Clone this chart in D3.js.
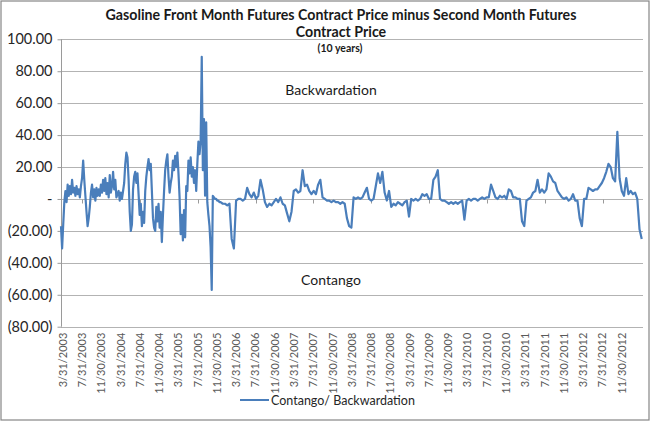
<!DOCTYPE html>
<html>
<head>
<meta charset="utf-8">
<script src="https://cdn.jsdelivr.net/npm/d3@7"></script>
<style>
body { margin:0; background:#fff; }
text { font-family: Lato, "Liberation Sans", sans-serif; }
</style>
</head>
<body>
<div id="main_div"></div>
<script>
var titleLines = ["Gasoline Front Month Futures Contract Price minus Second Month Futures", "Contract Price"];
var subTitle = "(10 years)";
var seriesName = "Contango/ Backwardation";
var regionLabels = ["Backwardation", "Contango"];

// front minus second month spread
// weekly through the volatile 2003-2005 stretch
var earlyStart = "3/20/2003", earlyStep = 7;
var earlySpread = [
  -17, -31, -16, -2, 5, -2, 9, 2, 8, 3,
  12, 4, 7, 2, 8, 3, 6, 1, 8, 13,
  24, 12, 2, -8, -17, -12, -5, 4, 9, 1,
  6, -1, 7, 2, 6, 2, 9, 4, 12, 5,
  13, 3, 10, 1, 15, 4, 8, 17, 6, 12,
  1, 3, 5, -1, 4, 0, 5, 10, 22, 29,
  26, 12, -8, -20, -16, 6, 14, 17, 10, 16,
  3, -10, -3, -17, -8, -15, 5, 14, 20, 25,
  18, 22, 5, -12, -18, -20, -5, -14, -3, -18,
  -8, -27, -10, 5, 18, 24, 28, 14, 4, 10,
  14, 24, 18, 27, 20, 29, 16, 1, -22, -10,
  -26, -7, -24, 8, 5, 24, 16, 26, 14, 20,
  10, 18, 5, 22, 36, 28, 36, 89, 18, 50,
  2, 48, -2, -10, -17, -30, -57, 2, 1, 0,
  0, -1, -1, -2
];
// biweekly afterwards
var lateStart = "12/22/2005", lateStep = 14;
var lateSpread = [
  -2, -3, -3, -4, -3, -25, -31, -1,
  0, 0, -1, 0, 7, 3, 1, 4, 0, 2,
  12, 6, -2, -5, -3, -4, -2, 0, -2, 1,
  -3, -4, -9, -14, -8, 5, 6, 4, 5, 18,
  8, 9, 5, 3, 5, 3, 9, 12, 1, 0,
  -1, -1, -2, -1, -2, -2, -3, -2, -3, -12,
  -17, -18, 1, 0, 1, 0, 1, 4, 7, 0,
  -1, 0, 8, 16, 10, 17, 4, -1, 5, -5,
  -3, -4, -2, -3, -4, -2, -1, -11, 0, -1,
  0, -1, 0, 3, 2, 3, 0, 0, 12, 14,
  18, 0, -1, -1, -2, -3, -2, -3, -2, -3,
  -2, -1, -13, -1, 0, -1, 0, 0, -1, 0,
  1, 0, 1, 1, 9, 5, 1, 0, 2, 1,
  2, 0, 6, 5, 1, 1, 0, 0, -14, -17,
  -1, 0, 1, 4, 5, 12, 4, 6, 4, 6,
  16, 14, 11, 10, 5, 3, 1, 0, 1, -1,
  0, 3, -1, -1, -12, -17, 0, 0, 7, 6,
  5, 6, 6, 8, 10, 13, 17, 22, 20, 13,
  11, 42, 13, 5, 2, 13, 3, 5, 3, 4,
  0, -19, -25
];
var yTicks = [100, 80, 60, 40, 20, 0, -20, -40, -60, -80];
var xTickLabels = [
  "3/31/2003", "7/31/2003", "11/30/2003", "3/31/2004", "7/31/2004", "11/30/2004",
  "3/31/2005", "7/31/2005", "11/30/2005", "3/31/2006", "7/31/2006", "11/30/2006",
  "3/31/2007", "7/31/2007", "11/30/2007", "3/31/2008", "7/31/2008", "11/30/2008",
  "3/31/2009", "7/31/2009", "11/30/2009", "3/31/2010", "7/31/2010", "11/30/2010",
  "3/31/2011", "7/31/2011", "11/30/2011", "3/31/2012", "7/31/2012", "11/30/2012"
];
var axisStart = "3/20/2003", axisEnd = "4/12/2013";

var parse = d3.timeParse("%m/%d/%Y");
function toPoints(start, step, vals){
  var t = parse(start);
  return vals.map(function(v, i){ return {date: d3.timeDay.offset(t, i * step), value: v}; });
}
var data = toPoints(earlyStart, earlyStep, earlySpread).concat(toPoints(lateStart, lateStep, lateSpread));

var W = 651, H = 422;
var plotL = 61, plotR = 643, plotT = 39.3, plotB = 326.7;

var svg = d3.select("#main_div").append("svg").attr("width", W).attr("height", H);
svg.append("rect").attr("x", 1).attr("y", 1).attr("width", W - 3).attr("height", H - 3)
  .attr("fill", "#fff").attr("stroke", "#868686").attr("stroke-width", 1.2);

var x = d3.scaleTime().domain([parse(axisStart), parse(axisEnd)]).range([plotL, plotR]);
var y = d3.scaleLinear().domain([-80, 100]).range([plotB, plotT]);

function fmt(v){
  if (v == 0) return "-";
  var s = d3.format(".2f")(Math.abs(v));
  return v < 0 ? "(" + s + ")" : s;
}

// grid
svg.append("g").selectAll("line").data(yTicks).enter().append("line")
  .attr("x1", plotL).attr("x2", plotR)
  .attr("y1", function(d){ return Math.round(y(d)) + 0.5; })
  .attr("y2", function(d){ return Math.round(y(d)) + 0.5; })
  .attr("stroke", "#b3b3b3").attr("stroke-width", 1);

// y axis
var yAxis = d3.axisLeft(y).tickValues(yTicks).tickFormat(fmt).tickSize(4).tickPadding(5);
var gy = svg.append("g").attr("transform", "translate(" + (plotL + 0.5) + ",0)").call(yAxis);
gy.select(".domain").attr("stroke", "#9a9a9a").attr("d", "M0," + plotT + "V" + plotB);
gy.selectAll(".tick line").attr("stroke", "#9a9a9a");
gy.selectAll("text").attr("font-family", "Lato").attr("font-size", 14.5).attr("fill", "#262626");

// year ticks on the zero line
var yearTicks = xTickLabels.filter(function(d){ return d.indexOf("7/31") == 0; });
svg.append("g").selectAll("line").data(yearTicks).enter().append("line")
  .attr("x1", function(d){ return Math.round(x(parse(d))) + 0.5; })
  .attr("x2", function(d){ return Math.round(x(parse(d))) + 0.5; })
  .attr("y1", Math.round(y(0)) + 0.5).attr("y2", Math.round(y(0)) + 4.5)
  .attr("stroke", "#9a9a9a");

// x labels, rotated
svg.append("g").selectAll("text").data(xTickLabels).enter().append("text")
  .attr("transform", function(d){ return "translate(" + x(parse(d)) + "," + (plotB + 6) + ") rotate(-90)"; })
  .attr("text-anchor", "end").attr("dy", "0.35em")
  .attr("font-family", "Liberation Sans").attr("font-size", 11).attr("fill", "#595959")
  .text(function(d){ return d; });

// series
var line = d3.line().x(function(d){ return x(d.date); }).y(function(d){ return y(d.value); });
svg.append("path").datum(data).attr("d", line)
  .attr("fill", "none").attr("stroke", "#4a7ebb").attr("stroke-width", 2.2).attr("stroke-linejoin", "round");

// titles
svg.selectAll(".title").data(titleLines).enter().append("text").attr("class", "title")
  .attr("x", 341).attr("y", function(d, i){ return 19.5 + i * 17; })
  .attr("text-anchor", "middle").attr("font-weight", "bold").attr("font-size", 14.2).attr("fill", "#1a1a1a")
  .text(function(d){ return d; });
svg.append("text").attr("x", 340).attr("y", 52).attr("text-anchor", "middle")
  .attr("font-weight", "bold").attr("font-size", 10.5).attr("fill", "#1a1a1a").text(subTitle);

// region notes
svg.append("text").attr("x", 331).attr("y", y(65)).attr("text-anchor", "middle")
  .attr("font-size", 14).attr("fill", "#1a1a1a").text(regionLabels[0]);
svg.append("text").attr("x", 331).attr("y", y(-54)).attr("text-anchor", "middle")
  .attr("font-size", 14).attr("fill", "#1a1a1a").text(regionLabels[1]);

// legend
var lg = svg.append("g").attr("transform", "translate(240,400)");
lg.append("line").attr("x1", 0).attr("x2", 29).attr("stroke", "#4a7ebb").attr("stroke-width", 2);
lg.append("text").attr("x", 31).attr("y", 4.5).attr("font-size", 12.5).attr("fill", "#262626").text(seriesName);
</script>
</body>
</html>
